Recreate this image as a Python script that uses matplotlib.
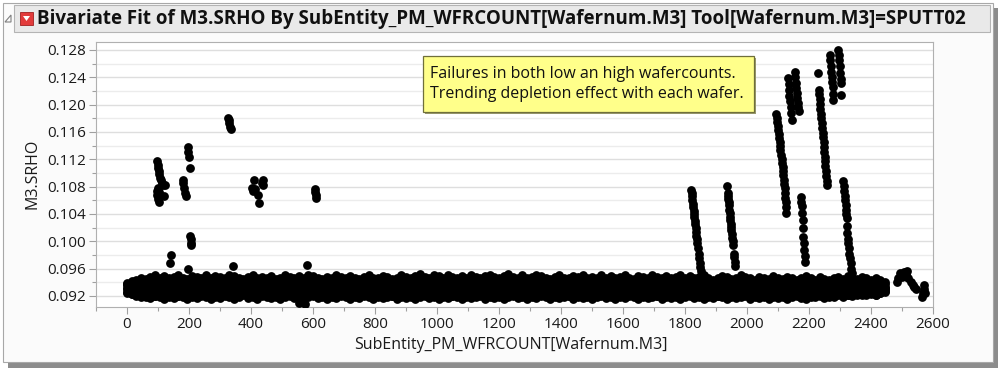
import numpy as np
import matplotlib
matplotlib.use("Agg")
import matplotlib.pyplot as plt
from matplotlib.patches import Rectangle, Polygon
from matplotlib.ticker import MultipleLocator, FormatStrFormatter

# ─────────────────────────────────────────────────────────────
# Texts
# ─────────────────────────────────────────────────────────────
TITLE   = "Bivariate Fit of M3.SRHO By SubEntity_PM_WFRCOUNT[Wafernum.M3] Tool[Wafernum.M3]=SPUTT02"
X_LABEL = "SubEntity_PM_WFRCOUNT[Wafernum.M3]"
Y_LABEL = "M3.SRHO"
NOTE    = "Failures in both low an high wafercounts.\nTrending depletion effect with each wafer."

x_ticks = [0, 200, 400, 600, 800, 1000, 1200, 1400, 1600, 1800, 2000, 2200, 2400, 2600]
y_ticks = [0.092, 0.096, 0.100, 0.104, 0.108, 0.112, 0.116, 0.120, 0.124, 0.128]

# ─────────────────────────────────────────────────────────────
# Data
# baseline band: wafer counts every 15, seven rows of SRHO (units of 1e-4)
# ─────────────────────────────────────────────────────────────
band_wafer = np.arange(0, 2446, 15)

band_top = [
    939, 942, 944, 946, 945, 948, 950, 947, 949, 946, 948, 951, 947, 945, 949, 948, 946, 950, 947, 949,
    948, 946, 951, 949, 947, 945, 948, 950, 946, 948, 947, 949, 945, 947, 950, 948, 946, 949, 947, 951,
    949, 947, 945, 948, 946, 950, 948, 947, 949, 946, 945, 948, 950, 947, 946, 949, 948, 945, 947, 950,
    948, 946, 949, 952, 948, 946, 950, 949, 947, 951, 948, 946, 949, 947, 950, 948, 946, 949, 951, 948,
    946, 949, 952, 948, 947, 950, 946, 948, 951, 949, 947, 945, 948, 950, 947, 946, 949, 948, 950, 947,
    948, 946, 950, 947, 949, 946, 948, 951, 947, 945, 949, 948, 946, 950, 948, 947, 949, 946, 948, 950,
    947, 949, 946, 948, 950, 946, 944, 947, 949, 948, 945, 947, 950, 948, 946, 944, 948, 947, 945, 949,
    947, 945, 948, 946, 944, 947, 949, 946, 944, 948, 945, 943, 946, 948, 945, 949, 947, 945, 948, 946,
    944, 946, 943, 940,
]
band_high = [
    937, 938, 940, 941, 940, 942, 944, 941, 943, 941, 942, 944, 941, 940, 943, 942, 941, 944, 941, 943,
    942, 941, 944, 943, 941, 940, 942, 944, 941, 942, 941, 943, 940, 941, 944, 942, 941, 943, 941, 944,
    943, 941, 940, 942, 941, 944, 942, 941, 943, 941, 940, 942, 944, 941, 941, 943, 942, 940, 941, 944,
    942, 941, 943, 945, 942, 941, 944, 943, 941, 944, 942, 941, 943, 941, 944, 942, 941, 943, 944, 942,
    941, 943, 945, 942, 941, 944, 941, 942, 944, 943, 941, 940, 942, 944, 941, 941, 943, 942, 944, 941,
    942, 941, 944, 941, 943, 941, 942, 944, 941, 940, 943, 942, 941, 944, 942, 941, 943, 941, 942, 944,
    941, 943, 941, 942, 944, 941, 940, 941, 943, 942, 940, 941, 944, 942, 941, 940, 942, 941, 940, 943,
    941, 940, 942, 941, 940, 941, 943, 941, 940, 942, 940, 939, 941, 942, 940, 943, 941, 940, 942, 941,
    940, 941, 939, 937,
]
band_upper = [
    936, 937, 938, 935, 937, 936, 938, 934, 937, 936, 935, 938, 936, 937, 934, 936, 938, 935, 937, 936,
    935, 937, 936, 938, 934, 936, 937, 935, 938, 936, 934, 937, 936, 938, 935, 937, 936, 934, 938, 936,
    937, 935, 936, 938, 934, 937, 936, 935, 938, 937, 934, 936, 938, 935, 937, 936, 934, 937, 938, 935,
    936, 938, 935, 937, 936, 934, 938, 936, 935, 937, 938, 934, 936, 937, 935, 938, 936, 934, 937, 936,
    938, 935, 937, 936, 934, 938, 936, 937, 935, 936, 938, 934, 937, 936, 935, 938, 937, 934, 936, 938,
    935, 937, 936, 938, 934, 936, 937, 935, 938, 936, 934, 937, 936, 938, 935, 937, 936, 934, 938, 936,
    937, 935, 936, 938, 934, 937, 936, 935, 938, 937, 934, 936, 938, 935, 937, 936, 934, 937, 938, 935,
    936, 934, 937, 935, 936, 938, 934, 936, 935, 937, 934, 936, 935, 937, 934, 936, 935, 937, 934, 936,
    935, 937, 934, 933,
]
band_mid = [
    932, 931, 933, 930, 932, 931, 929, 932, 930, 931, 933, 929, 931, 932, 930, 931, 933, 929, 931, 930,
    930, 932, 931, 933, 929, 931, 932, 930, 933, 931, 929, 932, 931, 930, 933, 931, 932, 929, 931, 933,
    931, 929, 932, 930, 933, 931, 930, 932, 929, 931, 933, 930, 932, 931, 929, 933, 930, 931, 932, 930,
    929, 932, 930, 933, 931, 929, 932, 931, 930, 933, 929, 931, 932, 930, 931, 933, 929, 932, 930, 931,
    933, 930, 932, 929, 931, 932, 930, 933, 931, 929, 932, 930, 931, 933, 929, 931, 932, 930, 933, 931,
    930, 933, 931, 929, 932, 930, 931, 933, 929, 932, 931, 930, 933, 931, 929, 932, 930, 931, 933, 930,
    932, 930, 933, 931, 929, 932, 930, 931, 933, 929, 931, 932, 930, 933, 931, 929, 932, 931, 930, 932,
    931, 929, 932, 930, 931, 933, 930, 932, 929, 931, 932, 930, 931, 932, 930, 931, 932, 930, 931, 932,
    931, 932, 930, 931,
]
band_lower = [
    930, 929, 928, 926, 927, 925, 928, 926, 927, 929, 925, 927, 926, 928, 925, 927, 929, 926, 927, 925,
    927, 926, 928, 925, 927, 929, 926, 928, 925, 927, 926, 929, 927, 925, 928, 926, 927, 929, 925, 927,
    926, 928, 925, 927, 929, 926, 927, 925, 928, 926, 929, 927, 925, 928, 926, 927, 929, 925, 927, 926,
    928, 925, 927, 926, 929, 927, 925, 928, 926, 927, 925, 929, 926, 928, 927, 925, 926, 929, 927, 928,
    925, 927, 929, 926, 928, 925, 927, 926, 929, 927, 925, 928, 926, 927, 929, 925, 928, 926, 927, 925,
    927, 929, 926, 928, 925, 927, 926, 929, 927, 925, 928, 926, 927, 929, 925, 927, 926, 928, 925, 927,
    926, 928, 925, 927, 929, 926, 927, 925, 928, 926, 929, 927, 925, 928, 926, 927, 929, 925, 927, 926,
    928, 926, 927, 929, 926, 928, 927, 925, 928, 926, 927, 929, 926, 928, 927, 926, 928, 927, 929, 928,
    928, 927, 929, 930,
]
band_low2 = [
    924, 923, 922, 921, 923, 922, 920, 922, 921, 923, 922, 920, 921, 923, 922, 921, 923, 920, 922, 921,
    922, 921, 923, 920, 922, 924, 921, 923, 920, 922, 921, 923, 922, 920, 923, 921, 922, 924, 920, 922,
    921, 923, 920, 922, 924, 921, 922, 920, 923, 921, 924, 922, 920, 923, 921, 922, 924, 920, 922, 921,
    923, 920, 922, 921, 924, 922, 920, 923, 921, 922, 920, 924, 921, 923, 922, 920, 921, 924, 922, 923,
    920, 922, 924, 921, 923, 920, 922, 921, 924, 922, 920, 923, 921, 922, 924, 920, 923, 921, 922, 920,
    922, 924, 921, 923, 920, 922, 921, 924, 922, 920, 923, 921, 922, 924, 920, 922, 921, 923, 920, 922,
    921, 923, 920, 922, 924, 921, 922, 920, 923, 921, 924, 922, 920, 923, 921, 922, 924, 920, 922, 921,
    923, 921, 922, 924, 921, 923, 922, 920, 923, 921, 922, 924, 921, 923, 922, 921, 923, 922, 924, 923,
    924, 922, 925, 927,
]
band_bottom = [
    926, 923, 920, 918, 919, 917, 920, 918, 916, 919, 917, 920, 918, 916, 919, 917, 920, 918, 916, 919,
    917, 920, 918, 916, 919, 921, 917, 918, 916, 920, 918, 917, 919, 916, 918, 920, 917, 919, 916, 918,
    920, 917, 919, 916, 918, 917, 920, 918, 916, 919, 917, 920, 918, 916, 919, 917, 918, 920, 916, 918,
    917, 919, 916, 918, 920, 917, 919, 916, 918, 917, 920, 918, 916, 919, 917, 918, 920, 916, 919, 917,
    919, 916, 918, 920, 917, 919, 916, 918, 917, 920, 918, 916, 919, 917, 918, 920, 916, 919, 917, 918,
    916, 918, 920, 917, 919, 916, 918, 917, 920, 918, 916, 919, 917, 918, 920, 916, 919, 917, 918, 916,
    918, 920, 917, 919, 916, 918, 917, 920, 918, 916, 919, 917, 918, 920, 916, 919, 917, 918, 916, 919,
    917, 919, 916, 918, 920, 917, 916, 919, 918, 920, 917, 919, 918, 921, 919, 922, 920, 923, 921, 922,
    923, 921, 924, 926,
]

# low wafercount failures
early_x = [97, 99, 100, 102, 104, 106, 110, 112, 115, 100, 96, 104, 98, 108, 100, 104, 120, 123,
           180, 182, 185, 188, 190,
           196, 198, 200, 202,
           203, 205, 207, 206,
           326, 328, 330, 332, 334,
           411, 440, 402, 412, 440, 424, 427, 405, 436,
           605, 607, 609, 611,
           142, 139, 196, 341, 580, 555, 575]
early_y = [0.1117, 0.1112, 0.1108, 0.1103, 0.1098, 0.1093, 0.1090, 0.1086, 0.1082, 0.1078, 0.1074,
           0.1072, 0.1068, 0.1066, 0.1062, 0.1058, 0.1066, 0.1083,
           0.1090, 0.1085, 0.1078, 0.1070, 0.1066,
           0.1138, 0.1131, 0.1124, 0.1107,
           0.1008, 0.1003, 0.0998, 0.0994,
           0.1181, 0.1177, 0.1173, 0.1168, 0.1164,
           0.1090, 0.1090, 0.1078, 0.1076, 0.1083, 0.1068, 0.1056, 0.1073, 0.1085,
           0.1077, 0.1072, 0.1068, 0.1064,
           0.0980, 0.0968, 0.0960, 0.0964, 0.0965, 0.0910, 0.0909]

# high wafercount failures (depletion runs)
late_x = [1820, 1821, 1822, 1824, 1825, 1826, 1828, 1829, 1830, 1832, 1833, 1834, 1836, 1837, 1838,
          1840, 1842, 1844, 1846, 1848, 1850, 1851,
          1936, 1938, 1939, 1940, 1941, 1942, 1943, 1944, 1945, 1946, 1947, 1948, 1950, 1951, 1953,
          1954, 1956, 1958, 1959, 1961, 1962,
          2094, 2096, 2098, 2099, 2101, 2102, 2104, 2105, 2106, 2108, 2110, 2112, 2113, 2115, 2116,
          2117, 2119, 2120, 2121, 2123, 2124, 2125, 2126, 2127,
          2133, 2134, 2135, 2137, 2139, 2141, 2142, 2144,
          2155, 2156, 2158, 2159, 2160, 2162, 2164, 2166, 2169,
          2173, 2174, 2176, 2178, 2180, 2181, 2182, 2184, 2185, 2187, 2188,
          2228, 2232, 2233, 2234, 2236, 2237, 2238, 2240, 2241, 2243, 2244, 2246, 2247, 2248, 2249,
          2251, 2252, 2253, 2255, 2256, 2258, 2259,
          2268, 2269, 2270, 2272, 2273, 2275, 2276, 2278, 2279,
          2295, 2296, 2298, 2299, 2300, 2302, 2303, 2304,
          2311, 2312, 2313, 2315, 2316, 2318, 2319, 2320, 2321, 2323, 2324, 2326, 2327, 2329, 2330,
          2333, 2335, 2337, 2339]
late_y = [0.1075, 0.1071, 0.1066, 0.1060, 0.1055, 0.1050, 0.1045, 0.1040, 0.1035, 0.1030, 0.1025,
          0.1020, 0.1014, 0.1008, 0.1003, 0.0998, 0.0990, 0.0982, 0.0975, 0.0968, 0.0962, 0.0956,
          0.1081, 0.1071, 0.1067, 0.1062, 0.1057, 0.1053, 0.1046, 0.1041, 0.1036, 0.1031, 0.1026,
          0.1021, 0.1016, 0.1010, 0.1005, 0.1000, 0.0995, 0.0982, 0.0977, 0.0970, 0.0964,
          0.1187, 0.1181, 0.1175, 0.1169, 0.1163, 0.1157, 0.1151, 0.1145, 0.1139, 0.1133, 0.1127,
          0.1121, 0.1115, 0.1109, 0.1103, 0.1097, 0.1090, 0.1084, 0.1078, 0.1071, 0.1064, 0.1057,
          0.1050, 0.1042,
          0.1239, 0.1230, 0.1221, 0.1213, 0.1205, 0.1197, 0.1188, 0.1178,
          0.1248, 0.1240, 0.1231, 0.1224, 0.1217, 0.1210, 0.1203, 0.1197, 0.1190,
          0.1065, 0.1058, 0.1051, 0.1041, 0.1031, 0.1020, 0.1007, 0.0997, 0.0987, 0.0978, 0.0970,
          0.1246, 0.1222, 0.1215, 0.1208, 0.1201, 0.1194, 0.1187, 0.1180, 0.1173, 0.1166, 0.1159,
          0.1152, 0.1145, 0.1138, 0.1131, 0.1124, 0.1117, 0.1110, 0.1103, 0.1096, 0.1089, 0.1082,
          0.1273, 0.1265, 0.1256, 0.1248, 0.1241, 0.1233, 0.1226, 0.1216, 0.1207,
          0.1280, 0.1273, 0.1266, 0.1256, 0.1246, 0.1238, 0.1231, 0.1214,
          0.1089, 0.1081, 0.1073, 0.1067, 0.1061, 0.1053, 0.1046, 0.1040, 0.1034, 0.1023, 0.1012,
          0.1004, 0.0997, 0.0990, 0.0982, 0.0975, 0.0968, 0.0960, 0.0953]

# tail after the gap
tail_x = [2484, 2488, 2494, 2500, 2505, 2512, 2515, 2520, 2528, 2534, 2540, 2545,
          2566, 2568, 2570, 2572, 2574]
tail_y = [0.0940, 0.0946, 0.0953, 0.0948, 0.0955, 0.0952, 0.0957, 0.0946, 0.0941, 0.0936, 0.0933,
          0.0930, 0.0918, 0.0924, 0.0936, 0.0930, 0.0925]

# ─────────────────────────────────────────────────────────────
# Figure / panel chrome (pixel helpers)
# ─────────────────────────────────────────────────────────────
W, H = 999, 370
FONT = "Open Sans"
DOT  = 40
def fx(px): return px / W
def fy(py): return 1 - py / H

fig = plt.figure(figsize=(W / 100, H / 100), dpi=100, facecolor="white")

# drop shadow + outer frame
fig.add_artist(Rectangle((fx(8), fy(368)), fx(990), (368 - 8) / H, transform=fig.transFigure,
                         facecolor="#8c8c8c", edgecolor="none", zorder=-2))
fig.add_artist(Rectangle((fx(3), fy(362)), fx(990), (362 - 3) / H, transform=fig.transFigure,
                         facecolor="#fbfbfb", edgecolor="#a8a8a8", lw=0.8, zorder=-1))
# title bar
fig.add_artist(Rectangle((fx(14), fy(32)), fx(976), 27 / H, transform=fig.transFigure,
                         facecolor="#e9e9e9", edgecolor="#b4b4b4", lw=0.8, zorder=1))
fig.add_artist(Polygon([(fx(5), fy(22)), (fx(11), fy(22)), (fx(11), fy(15))], closed=True,
                       transform=fig.transFigure, facecolor="none", edgecolor="#808080", lw=0.8, zorder=2))
fig.add_artist(Rectangle((fx(20), fy(25)), 13 / W, 13 / H, transform=fig.transFigure,
                         facecolor="#e23b3b", edgecolor="#a02020", lw=0.6, zorder=2))
fig.add_artist(Polygon([(fx(23), fy(16)), (fx(30), fy(16)), (fx(26.5), fy(21))], closed=True,
                       transform=fig.transFigure, facecolor="white", edgecolor="none", zorder=3))
fig.text(fx(37), fy(19), TITLE, fontsize=13.5, fontweight="bold", family=FONT,
         va="center", ha="left", color="#111111")

# 1 · Scatter --------------------------------------------------------------
ax = fig.add_axes([fx(96), fy(307), (933 - 96) / W, (307 - 42) / H])
ax.set_zorder(2)
ax.set_facecolor("white")

band_rows = [band_bottom, band_low2, band_lower, band_mid, band_upper, band_high, band_top]
for row in band_rows:
    ax.scatter(band_wafer, np.array(row) / 1e4, s=DOT, c="black", linewidths=0, zorder=3)
ax.scatter(early_x, early_y, s=DOT, c="black", linewidths=0, zorder=3)
ax.scatter(late_x, late_y, s=DOT, c="black", linewidths=0, zorder=3)
ax.scatter(tail_x, tail_y, s=DOT, c="black", linewidths=0, zorder=3)

ax.set_xlim(-100, 2600)
ax.set_ylim(0.09039, 0.12917)
ax.set_xticks(x_ticks)
ax.set_yticks(y_ticks)
ax.xaxis.set_minor_locator(MultipleLocator(100))
ax.yaxis.set_minor_locator(MultipleLocator(0.002))
ax.yaxis.set_major_formatter(FormatStrFormatter("%.3f"))
ax.grid(True, axis="y", which="major", color="#dedede", lw=1.0, zorder=0)
ax.grid(True, axis="y", which="minor", color="#ececec", lw=1.0, zorder=0)
for s in ax.spines.values():
    s.set_color("#b0b0b0")
    s.set_linewidth(0.8)
ax.tick_params(which="major", direction="out", length=5, width=0.8, color="#a0a0a0",
               labelsize=11, labelcolor="#1a1a1a", pad=2)
ax.tick_params(which="minor", direction="out", length=3, width=0.8, color="#a0a0a0")
for lab in ax.get_xticklabels() + ax.get_yticklabels():
    lab.set_family(FONT)

fig.text(fx(511), fy(345), X_LABEL, fontsize=11.5, family=FONT, ha="center", va="center",
         color="#1a1a1a")
fig.text(fx(32), fy(174), Y_LABEL, fontsize=11.5, family=FONT, ha="center", va="center",
         rotation=90, color="#1a1a1a")

# 2 · Annotation -----------------------------------------------------------
fig.add_artist(Rectangle((fx(425), fy(114)), 331 / W, 56 / H, transform=fig.transFigure,
                         facecolor="#9a9a70", edgecolor="none", zorder=4))
fig.add_artist(Rectangle((fx(423), fy(112)), 331 / W, 56 / H, transform=fig.transFigure,
                         facecolor="#ffff8a", edgecolor="#6f6f3a", lw=0.9, zorder=5))
fig.text(fx(430), fy(84), NOTE, fontsize=11.5, family=FONT, ha="left", va="center",
         color="#111111", linespacing=1.35, zorder=6)

fig.savefig("out.png", dpi=100, facecolor="white")
